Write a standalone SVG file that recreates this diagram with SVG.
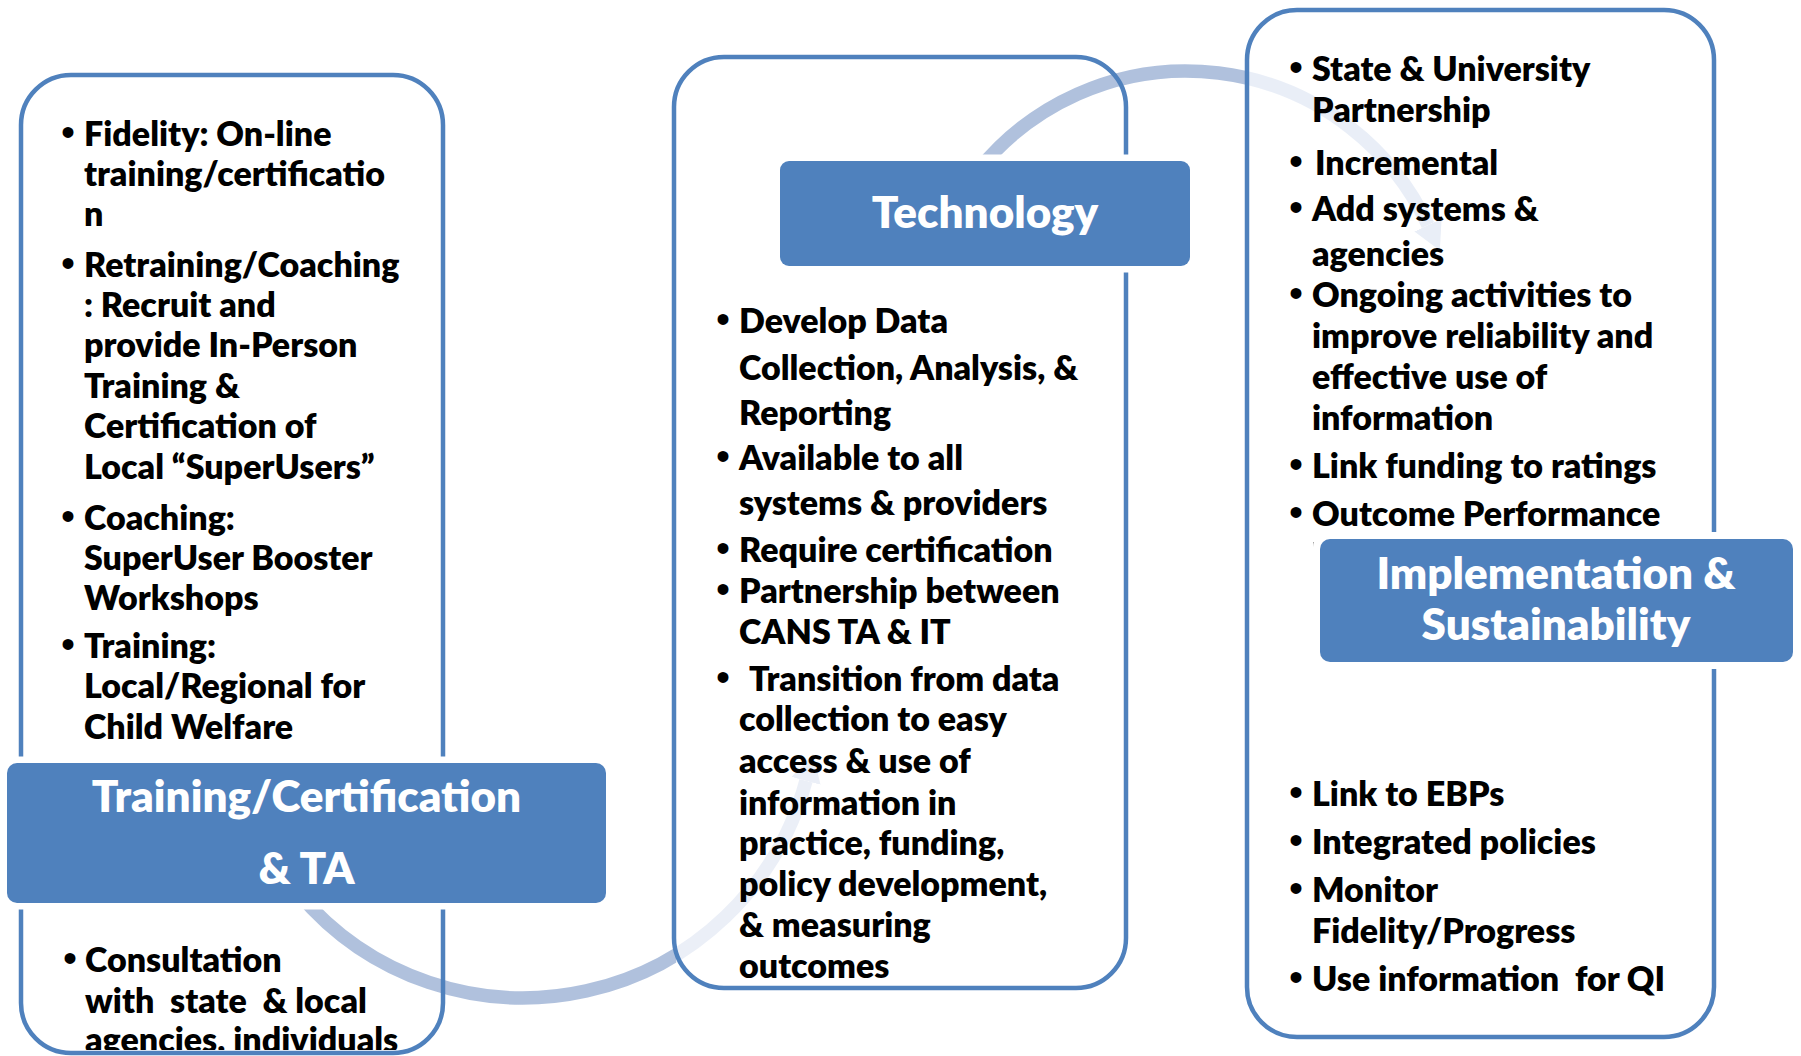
<svg xmlns="http://www.w3.org/2000/svg" width="1801" height="1056" viewBox="0 0 1801 1056">
  <style>
    .frame { fill: none; stroke: #4F81BD; stroke-width: 4.5; }
    .lab { fill: #4F81BD; }
    .labedge { fill: #FFFFFF; }
    .body { font-family: Lato, "Open Sans", "Liberation Sans", sans-serif; font-weight: 800; font-size: 34px; fill: #000000; }
    .bul { font-family: "Liberation Sans", Arial, sans-serif; font-size: 40px; fill: #000000; text-anchor: middle; }
    .title { font-family: Lato, "Open Sans", "Liberation Sans", sans-serif; font-weight: 800; font-size: 44px; fill: #FFFFFF; text-anchor: middle; }
    .arc { fill: none; stroke-width: 13.5; stroke-linecap: butt; }
  </style>
  <defs>
    <!-- arc colour turns pale where the arc runs under a panel -->
    <linearGradient id="fadeA" gradientUnits="userSpaceOnUse" x1="660" y1="0" x2="692" y2="0">
      <stop offset="0" stop-color="#B0C1DD"/>
      <stop offset="0.5" stop-color="#B0C1DD"/>
      <stop offset="0.5" stop-color="#EBEFF7"/>
      <stop offset="1" stop-color="#EBEFF7"/>
    </linearGradient>
    <linearGradient id="fadeB" gradientUnits="userSpaceOnUse" x1="1233" y1="0" x2="1265" y2="0">
      <stop offset="0" stop-color="#B0C1DD"/>
      <stop offset="0.5" stop-color="#B0C1DD"/>
      <stop offset="0.5" stop-color="#E9EEF7"/>
      <stop offset="1" stop-color="#E9EEF7"/>
    </linearGradient>
    <marker id="headA" viewBox="0 0 28 30" refX="0" refY="15" markerWidth="28" markerHeight="30" markerUnits="userSpaceOnUse" orient="auto">
      <path d="M0,0 L28,15 L0,30 Z" fill="#EBEFF7"/>
    </marker>
    <marker id="headB" viewBox="0 0 28 30" refX="0" refY="15" markerWidth="28" markerHeight="30" markerUnits="userSpaceOnUse" orient="auto">
      <path d="M0,0 L28,15 L0,30 Z" fill="#E9EEF7"/>
    </marker>
  </defs>

  <rect x="0" y="0" width="1801" height="1056" fill="#FFFFFF"/>

  <!-- curved arrows linking the three stages -->
  <g id="connectors">
    <path class="arc" stroke="url(#fadeA)" d="M298.6,893.3 A293,293 0 0 0 806,780.8" marker-end="url(#headA)"/>
    <path class="arc" stroke="url(#fadeB)" d="M978.5,170 A267,267 0 0 1 1428,225.2" marker-end="url(#headB)"/>
  </g>

  <!-- stage 1: training -->
  <g id="node-training">
    <rect class="frame" x="21" y="75" width="422" height="978" rx="50" ry="50"/>
    <defs>
      <clipPath id="clipTrain"><rect x="23" y="77" width="418" height="973"/></clipPath>
    </defs>
    <g>
      <text class="bul" x="68" y="146">•</text>
      <text class="body" x="84" y="146">Fidelity: On-line</text>
      <text class="body" x="84" y="186">training/certificatio</text>
      <text class="body" x="84" y="226">n</text>
      <text class="bul" x="68" y="277">•</text>
      <text class="body" x="84" y="277">Retraining/Coaching</text>
      <text class="body" x="84" y="317">: Recruit and</text>
      <text class="body" x="84" y="357">provide In-Person</text>
      <text class="body" x="84" y="398">Training &amp;</text>
      <text class="body" x="84" y="438">Certification of</text>
      <text class="body" x="84" y="479">Local &#8220;SuperUsers&#8221;</text>
      <text class="bul" x="68" y="530">•</text>
      <text class="body" x="84" y="530">Coaching:</text>
      <text class="body" x="84" y="570">SuperUser Booster</text>
      <text class="body" x="84" y="610">Workshops</text>
      <text class="bul" x="68" y="658">•</text>
      <text class="body" x="84" y="658">Training:</text>
      <text class="body" x="84" y="698">Local/Regional for</text>
      <text class="body" x="84" y="739">Child Welfare</text>
    </g>
    <g clip-path="url(#clipTrain)">
      <text class="bul" x="70" y="972">•</text>
      <text class="body" x="85" y="972">Consultation</text>
      <text class="body" x="85" y="1013" xml:space="preserve">with  state  &amp; local</text>
      <text class="body" x="85" y="1052">agencies, individuals</text>
    </g>
    <rect class="labedge" x="0.5" y="756.5" width="612" height="153" rx="15" ry="15"/>
    <rect class="lab" x="7" y="763" width="599" height="140" rx="10" ry="10"/>
    <text class="title" x="306.5" y="812">Training/Certification</text>
    <text class="title" x="306.5" y="884">&amp; TA</text>
  </g>

  <!-- stage 2: technology -->
  <g id="node-technology">
    <rect class="frame" x="674" y="57" width="452" height="931" rx="50" ry="50"/>
    <text class="bul" x="723" y="333">•</text>
    <text class="body" x="739" y="333">Develop Data</text>
    <text class="body" x="739" y="380">Collection, Analysis, &amp;</text>
    <text class="body" x="739" y="425">Reporting</text>
    <text class="bul" x="723" y="470">•</text>
    <text class="body" x="739" y="470">Available to all</text>
    <text class="body" x="739" y="515">systems &amp; providers</text>
    <text class="bul" x="723" y="562">•</text>
    <text class="body" x="739" y="562">Require certification</text>
    <text class="bul" x="723" y="603">•</text>
    <text class="body" x="739" y="603">Partnership between</text>
    <text class="body" x="739" y="644">CANS TA &amp; IT</text>
    <text class="bul" x="723" y="691">•</text>
    <text class="body" x="749" y="691">Transition from data</text>
    <text class="body" x="739" y="731">collection to easy</text>
    <text class="body" x="739" y="773">access &amp; use of</text>
    <text class="body" x="739" y="815">information in</text>
    <text class="body" x="739" y="855">practice, funding,</text>
    <text class="body" x="739" y="896">policy development,</text>
    <text class="body" x="739" y="937">&amp; measuring</text>
    <text class="body" x="739" y="978">outcomes</text>
    <rect class="labedge" x="773.5" y="154.5" width="423" height="118" rx="15" ry="15"/>
    <rect class="lab" x="780" y="161" width="410" height="105" rx="9" ry="9"/>
    <text class="title" x="985" y="228">Technology</text>
  </g>

  <!-- stage 3: implementation -->
  <g id="node-implementation">
    <rect class="frame" x="1247" y="10" width="467" height="1027" rx="50" ry="50"/>
    <text class="bul" x="1296" y="81">•</text>
    <text class="body" x="1312" y="81">State &amp; University</text>
    <text class="body" x="1312" y="122">Partnership</text>
    <text class="bul" x="1296" y="175">•</text>
    <text class="body" x="1315" y="175">Incremental</text>
    <text class="bul" x="1296" y="221">•</text>
    <text class="body" x="1312" y="221">Add systems &amp;</text>
    <text class="body" x="1312" y="266">agencies</text>
    <text class="bul" x="1296" y="307">•</text>
    <text class="body" x="1312" y="307">Ongoing activities to</text>
    <text class="body" x="1312" y="348">improve reliability and</text>
    <text class="body" x="1312" y="389">effective use of</text>
    <text class="body" x="1312" y="430">information</text>
    <text class="bul" x="1296" y="478">•</text>
    <text class="body" x="1312" y="478">Link funding to ratings</text>
    <text class="bul" x="1296" y="526">•</text>
    <text class="body" x="1312" y="526">Outcome Performance</text>
    <rect x="1313.3" y="542" width="1.8" height="23" fill="#666666"/>
    <text class="bul" x="1296" y="806">•</text>
    <text class="body" x="1312" y="806">Link to EBPs</text>
    <text class="bul" x="1296" y="854">•</text>
    <text class="body" x="1312" y="854">Integrated policies</text>
    <text class="bul" x="1296" y="902">•</text>
    <text class="body" x="1312" y="902">Monitor</text>
    <text class="body" x="1312" y="943">Fidelity/Progress</text>
    <text class="bul" x="1296" y="991">•</text>
    <text class="body" x="1312" y="991" xml:space="preserve">Use information  for QI</text>
    <rect class="labedge" x="1313" y="532" width="487" height="137" rx="15" ry="15"/>
    <rect class="lab" x="1320" y="539" width="473" height="123" rx="10" ry="10"/>
    <text class="title" x="1556" y="589">Implementation &amp;</text>
    <text class="title" x="1556" y="640">Sustainability</text>
  </g>
</svg>
